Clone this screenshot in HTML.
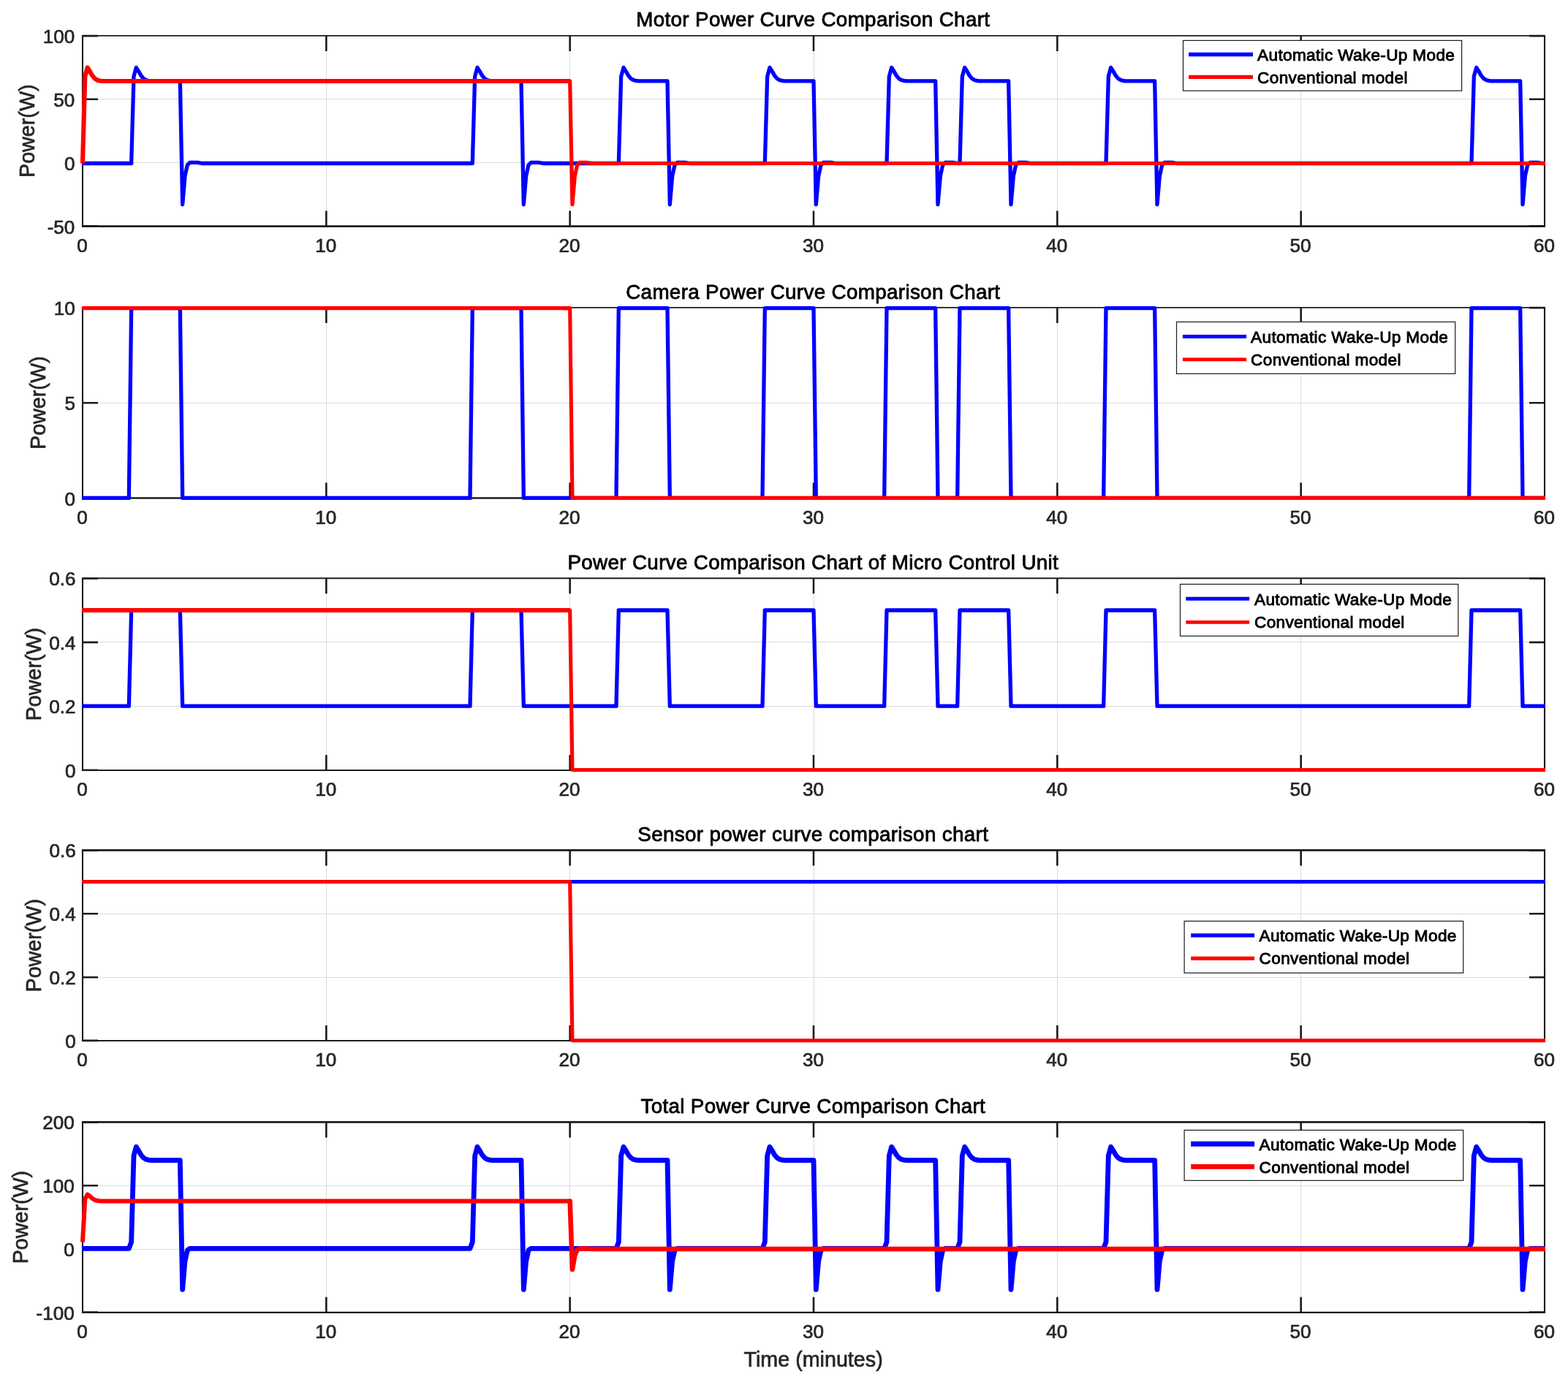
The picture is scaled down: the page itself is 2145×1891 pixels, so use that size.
<!DOCTYPE html>
<html lang="en"><head><meta charset="utf-8"><title>Power Curve Comparison Charts</title>
<style>
html,body{margin:0;padding:0;background:#fff}
body{width:2145px;height:1891px;overflow:hidden}
svg{display:block;font-family:"Liberation Sans",sans-serif}
.g{stroke:#dcdcdc;stroke-width:1;fill:none}
.a{stroke:#1c1c1c;fill:none}
.k{stroke:#1c1c1c;stroke-width:2.6;fill:none}
.b{stroke:#0000ff;fill:none;stroke-linejoin:round}
.r{stroke:#ff0000;fill:none;stroke-linejoin:round}
.t{fill:#262626;font-size:26.1px;stroke:#262626;stroke-width:0.7}
.l{fill:#262626;font-size:28.7px;stroke:#262626;stroke-width:0.7}
.h{fill:#000;font-size:27.8px;letter-spacing:0.335px;text-anchor:middle;stroke:#000;stroke-width:0.8}
.e{fill:#000;font-size:22.6px;letter-spacing:0.33px;stroke:#000;stroke-width:0.9}
.lb{fill:#fff;stroke:#1c1c1c;stroke-width:1.2}
</style></head><body>
<svg width="2145" height="1891" viewBox="0 0 2145 1891" role="img" aria-label="Power curve comparison charts">
<rect width="2145" height="1891" fill="#fff"/>
<g id="chart1">
<path class="g" d="M446.5 48.9V309.55M779.5 48.9V309.55M1113.5 48.9V309.55M1446.5 48.9V309.55M1779.5 48.9V309.55M113 222.5H2113M113 135.5H2113"/>
<path class="a" stroke-width="1.9" d="M111.95 48.9H2114.05"/>
<path class="a" stroke-width="2.7" d="M111.95 309.55H2114.05"/>
<path class="a" stroke-width="2.1" d="M113 48.9V309.55M2113 48.9V309.55"/>
<path class="k" d="M446.33 309.55v-21M446.33 48.9v21M779.67 309.55v-21M779.67 48.9v21M1113 309.55v-21M1113 48.9v21M1446.33 309.55v-21M1446.33 48.9v21M1779.67 309.55v-21M1779.67 48.9v21M113 309.35h21M2113 309.35h-21M113 222.67h21M2113 222.67h-21M113 135.78h21M2113 135.78h-21M113 49.1h21M2113 49.1h-21"/>
<path class="b" stroke-width="5.3" d="M112 223.5L179.67 223.5L183 104.66L186.33 92.42L189.67 97.67L193 103.61L196.33 107.45L199.67 109.55L203 110.43L206.33 110.95L246.33 110.95L249.67 279.77L253 240.98L256.33 225.77L259.67 222.45L269.67 222.45L273 222.98L276.33 223.5L646.33 223.5L649.67 104.66L653 92.42L656.33 97.67L659.67 103.61L663 107.45L666.33 109.55L669.67 110.43L673 110.95L713 110.95L716.33 279.77L719.67 240.98L723 225.77L726.33 222.45L736.33 222.45L739.67 222.98L743 223.5L846.33 223.5L849.67 104.66L853 92.42L856.33 97.67L859.67 103.61L863 107.45L866.33 109.55L869.67 110.43L873 110.95L913 110.95L916.33 279.77L919.67 240.98L923 225.77L926.33 222.45L936.33 222.45L939.67 222.98L943 223.5L1046.33 223.5L1049.67 104.66L1053 92.42L1056.33 97.67L1059.67 103.61L1063 107.45L1066.33 109.55L1069.67 110.43L1073 110.95L1113 110.95L1116.33 279.77L1119.67 240.98L1123 225.77L1126.33 222.45L1136.33 222.45L1139.67 222.98L1143 223.5L1213 223.5L1216.33 104.66L1219.67 92.42L1223 97.67L1226.33 103.61L1229.67 107.45L1233 109.55L1236.33 110.43L1239.67 110.95L1279.67 110.95L1283 279.77L1286.33 240.98L1289.67 225.77L1293 222.45L1303 222.45L1306.33 222.98L1309.67 223.5L1313 223.5L1316.33 104.66L1319.67 92.42L1323 97.67L1326.33 103.61L1329.67 107.45L1333 109.55L1336.33 110.43L1339.67 110.95L1379.67 110.95L1383 279.77L1386.33 240.98L1389.67 225.77L1393 222.45L1403 222.45L1406.33 222.98L1409.67 223.5L1513 223.5L1516.33 104.66L1519.67 92.42L1523 97.67L1526.33 103.61L1529.67 107.45L1533 109.55L1536.33 110.43L1539.67 110.95L1579.67 110.95L1583 279.77L1586.33 240.98L1589.67 225.77L1593 222.45L1603 222.45L1606.33 222.98L1609.67 223.5L2013 223.5L2016.33 104.66L2019.67 92.42L2023 97.67L2026.33 103.61L2029.67 107.45L2033 109.55L2036.33 110.43L2039.67 110.95L2079.67 110.95L2083 279.77L2086.33 240.98L2089.67 225.77L2093 222.45L2103 222.45L2106.33 222.98L2109.67 223.5L2114 223.5"/>
<path class="r" stroke-width="5.2" d="M769.67 110.95L779.67 110.95L783 279.77L786.33 240.98L789.67 225.77L793 222.45L803 222.45L806.33 222.98L809.67 223.5L2114 223.5"/>
<path class="r" stroke-width="6.1" d="M113 223.5L116.33 104.66L119.67 92.42L123 97.67L126.33 103.61L129.67 107.45L133 109.55L136.33 110.43L139.67 110.95L779.67 110.95"/>
<text class="t" text-anchor="middle" x="112.4" y="344.95">0</text>
<text class="t" text-anchor="middle" x="445.73" y="344.95">10</text>
<text class="t" text-anchor="middle" x="779.07" y="344.95">20</text>
<text class="t" text-anchor="middle" x="1112.4" y="344.95">30</text>
<text class="t" text-anchor="middle" x="1445.73" y="344.95">40</text>
<text class="t" text-anchor="middle" x="1779.07" y="344.95">50</text>
<text class="t" text-anchor="middle" x="2112.4" y="344.95">60</text>
<text class="t" text-anchor="end" x="102.4" y="319.55">-50</text>
<text class="t" text-anchor="end" x="102.4" y="232.67">0</text>
<text class="t" text-anchor="end" x="102.4" y="145.78">50</text>
<text class="t" text-anchor="end" x="102.4" y="58.9">100</text>
<text class="h" x="1112.3" y="36.3">Motor Power Curve Comparison Chart</text>
<text class="l" text-anchor="middle" transform="translate(47.1 179.22) rotate(-90)">Power(W)</text>
<rect class="lb" x="1618.5" y="55.4" width="381.1" height="68.8"/>
<path stroke="#0000ff" stroke-width="5.3" d="M1626.1 74.5H1714"/>
<path stroke="#ff0000" stroke-width="5.3" d="M1626.1 105.3H1714"/>
<text class="e" x="1720.1" y="83.1">Automatic Wake-Up Mode</text>
<text class="e" x="1720.1" y="114">Conventional model</text>
</g>
<g id="chart2">
<path class="g" d="M446.5 420.9V681.55M779.5 420.9V681.55M1113.5 420.9V681.55M1446.5 420.9V681.55M1779.5 420.9V681.55M113 551.5H2113"/>
<path class="a" stroke-width="1.9" d="M111.95 420.9H2114.05"/>
<path class="a" stroke-width="2.5" d="M111.95 681.55H2114.05"/>
<path class="a" stroke-width="2.1" d="M113 420.9V681.55M2113 420.9V681.55"/>
<path class="k" d="M446.33 681.55v-21M446.33 420.9v21M779.67 681.55v-21M779.67 420.9v21M1113 681.55v-21M1113 420.9v21M1446.33 681.55v-21M1446.33 420.9v21M1779.67 681.55v-21M1779.67 420.9v21M113 681.35h21M2113 681.35h-21M113 551.22h21M2113 551.22h-21M113 421.1h21M2113 421.1h-21"/>
<path class="b" stroke-width="5.3" d="M112 681.4L176.33 681.4L179.67 421.65L246.33 421.65L249.67 681.4L643 681.4L646.33 421.65L713 421.65L716.33 681.4L843 681.4L846.33 421.65L913 421.65L916.33 681.4L1043 681.4L1046.33 421.65L1113 421.65L1116.33 681.4L1209.67 681.4L1213 421.65L1279.67 421.65L1283 681.4L1309.67 681.4L1313 421.65L1379.67 421.65L1383 681.4L1509.67 681.4L1513 421.65L1579.67 421.65L1583 681.4L2009.67 681.4L2013 421.65L2079.67 421.65L2083 681.4L2114 681.4"/>
<path class="r" stroke-width="5.1" d="M769.67 421.65L779.67 421.65L783 681.4L2114 681.4"/>
<path class="r" stroke-width="5.4" d="M112 421.65L779.67 421.65"/>
<text class="t" text-anchor="middle" x="112.4" y="716.95">0</text>
<text class="t" text-anchor="middle" x="445.73" y="716.95">10</text>
<text class="t" text-anchor="middle" x="779.07" y="716.95">20</text>
<text class="t" text-anchor="middle" x="1112.4" y="716.95">30</text>
<text class="t" text-anchor="middle" x="1445.73" y="716.95">40</text>
<text class="t" text-anchor="middle" x="1779.07" y="716.95">50</text>
<text class="t" text-anchor="middle" x="2112.4" y="716.95">60</text>
<text class="t" text-anchor="end" x="102.9" y="691.55">0</text>
<text class="t" text-anchor="end" x="102.9" y="561.22">5</text>
<text class="t" text-anchor="end" x="102.9" y="430.9">10</text>
<text class="h" x="1112.3" y="408.9">Camera Power Curve Comparison Chart</text>
<text class="l" text-anchor="middle" transform="translate(61.9 551.22) rotate(-90)">Power(W)</text>
<rect class="lb" x="1609.5" y="440.5" width="381.2" height="70.9"/>
<path stroke="#0000ff" stroke-width="4.9" d="M1617.9 460.5H1705.1"/>
<path stroke="#ff0000" stroke-width="4.9" d="M1617.9 491.9H1705.1"/>
<text class="e" x="1711.1" y="469.3">Automatic Wake-Up Mode</text>
<text class="e" x="1711.1" y="500.1">Conventional model</text>
</g>
<g id="chart3">
<path class="g" d="M446.5 791.3V1053.9M779.5 791.3V1053.9M1113.5 791.3V1053.9M1446.5 791.3V1053.9M1779.5 791.3V1053.9M113 966.5H2113M113 878.5H2113"/>
<path class="a" stroke-width="2" d="M111.95 791.3H2114.05"/>
<path class="a" stroke-width="2" d="M111.95 1053.9H2114.05"/>
<path class="a" stroke-width="2.1" d="M113 791.3V1053.9M2113 791.3V1053.9"/>
<path class="k" d="M446.33 1053.9v-21M446.33 791.3v21M779.67 1053.9v-21M779.67 791.3v21M1113 1053.9v-21M1113 791.3v21M1446.33 1053.9v-21M1446.33 791.3v21M1779.67 1053.9v-21M1779.67 791.3v21M113 1053.7h21M2113 1053.7h-21M113 966.37h21M2113 966.37h-21M113 878.83h21M2113 878.83h-21M113 791.5h21M2113 791.5h-21"/>
<path class="b" stroke-width="5.3" d="M112 966.1L176.33 966.1L179.67 835L246.33 835L249.67 966.1L643 966.1L646.33 835L713 835L716.33 966.1L843 966.1L846.33 835L913 835L916.33 966.1L1043 966.1L1046.33 835L1113 835L1116.33 966.1L1209.67 966.1L1213 835L1279.67 835L1283 966.1L1309.67 966.1L1313 835L1379.67 835L1383 966.1L1509.67 966.1L1513 835L1579.67 835L1583 966.1L2009.67 966.1L2013 835L2079.67 835L2083 966.1L2114 966.1"/>
<path class="r" stroke-width="5.1" d="M769.67 835L779.67 835L783 1053.5L2114 1053.5"/>
<path class="r" stroke-width="6" d="M112 835L779.67 835"/>
<text class="t" text-anchor="middle" x="112.4" y="1089.3">0</text>
<text class="t" text-anchor="middle" x="445.73" y="1089.3">10</text>
<text class="t" text-anchor="middle" x="779.07" y="1089.3">20</text>
<text class="t" text-anchor="middle" x="1112.4" y="1089.3">30</text>
<text class="t" text-anchor="middle" x="1445.73" y="1089.3">40</text>
<text class="t" text-anchor="middle" x="1779.07" y="1089.3">50</text>
<text class="t" text-anchor="middle" x="2112.4" y="1089.3">60</text>
<text class="t" text-anchor="end" x="103.6" y="1063.9">0</text>
<text class="t" text-anchor="end" x="103.6" y="976.37">0.2</text>
<text class="t" text-anchor="end" x="103.6" y="888.83">0.4</text>
<text class="t" text-anchor="end" x="103.6" y="801.3">0.6</text>
<text class="h" x="1112.3" y="778.9">Power Curve Comparison Chart of Micro Control Unit</text>
<text class="l" text-anchor="middle" transform="translate(55.9 922.6) rotate(-90)">Power(W)</text>
<rect class="lb" x="1614.5" y="799.4" width="380.3" height="70.9"/>
<path stroke="#0000ff" stroke-width="4.9" d="M1622.3 819.3H1709.2"/>
<path stroke="#ff0000" stroke-width="4.9" d="M1622.3 851.4H1709.2"/>
<text class="e" x="1716" y="828.1">Automatic Wake-Up Mode</text>
<text class="e" x="1716" y="859.4">Conventional model</text>
</g>
<g id="chart4">
<path class="g" d="M446.5 1163.45V1424.05M779.5 1163.45V1424.05M1113.5 1163.45V1424.05M1446.5 1163.45V1424.05M1779.5 1163.45V1424.05M113 1337.5H2113M113 1250.5H2113"/>
<path class="a" stroke-width="2.7" d="M111.95 1163.45H2114.05"/>
<path class="a" stroke-width="1.9" d="M111.95 1424.05H2114.05"/>
<path class="a" stroke-width="2.1" d="M113 1163.45V1424.05M2113 1163.45V1424.05"/>
<path class="k" d="M446.33 1424.05v-21M446.33 1163.45v21M779.67 1424.05v-21M779.67 1163.45v21M1113 1424.05v-21M1113 1163.45v21M1446.33 1424.05v-21M1446.33 1163.45v21M1779.67 1424.05v-21M1779.67 1163.45v21M113 1423.85h21M2113 1423.85h-21M113 1337.18h21M2113 1337.18h-21M113 1250.32h21M2113 1250.32h-21M113 1163.65h21M2113 1163.65h-21"/>
<path class="b" stroke-width="5.1" d="M112 1206.5L2114 1206.5"/>
<path class="r" stroke-width="5.1" d="M769.67 1206.5L779.67 1206.5L783 1423.7L2114 1423.7"/>
<path class="r" stroke-width="5.1" d="M112 1206.5L779.67 1206.5"/>
<text class="t" text-anchor="middle" x="112.4" y="1459.45">0</text>
<text class="t" text-anchor="middle" x="445.73" y="1459.45">10</text>
<text class="t" text-anchor="middle" x="779.07" y="1459.45">20</text>
<text class="t" text-anchor="middle" x="1112.4" y="1459.45">30</text>
<text class="t" text-anchor="middle" x="1445.73" y="1459.45">40</text>
<text class="t" text-anchor="middle" x="1779.07" y="1459.45">50</text>
<text class="t" text-anchor="middle" x="2112.4" y="1459.45">60</text>
<text class="t" text-anchor="end" x="103.7" y="1434.05">0</text>
<text class="t" text-anchor="end" x="103.7" y="1347.18">0.2</text>
<text class="t" text-anchor="end" x="103.7" y="1260.32">0.4</text>
<text class="t" text-anchor="end" x="103.7" y="1173.45">0.6</text>
<text class="h" x="1112.3" y="1151.2">Sensor power curve comparison chart</text>
<text class="l" text-anchor="middle" transform="translate(55.9 1293.75) rotate(-90)">Power(W)</text>
<rect class="lb" x="1620.1" y="1260.4" width="381.6" height="70.9"/>
<path stroke="#0000ff" stroke-width="5.4" d="M1629.2 1279.9H1716.1"/>
<path stroke="#ff0000" stroke-width="5.4" d="M1629.2 1311.4H1716.1"/>
<text class="e" x="1722.6" y="1288.1">Automatic Wake-Up Mode</text>
<text class="e" x="1722.6" y="1319.4">Conventional model</text>
</g>
<g id="chart5">
<path class="g" d="M446.5 1535.4V1795.85M779.5 1535.4V1795.85M1113.5 1535.4V1795.85M1446.5 1535.4V1795.85M1779.5 1535.4V1795.85M113 1709.5H2113M113 1622.5H2113"/>
<path class="a" stroke-width="2.8" d="M111.95 1535.4H2114.05"/>
<path class="a" stroke-width="2.3" d="M111.95 1795.85H2114.05"/>
<path class="a" stroke-width="2.1" d="M113 1535.4V1795.85M2113 1535.4V1795.85"/>
<path class="k" d="M446.33 1795.85v-21M446.33 1535.4v21M779.67 1795.85v-21M779.67 1535.4v21M1113 1795.85v-21M1113 1535.4v21M1446.33 1795.85v-21M1446.33 1535.4v21M1779.67 1795.85v-21M1779.67 1535.4v21M113 1795.65h21M2113 1795.65h-21M113 1709.03h21M2113 1709.03h-21M113 1622.22h21M2113 1622.22h-21M113 1535.6h21M2113 1535.6h-21"/>
<path class="b" stroke-width="6.8" d="M112 1708.43L176.33 1708.43L179.67 1699.48L183 1581.41L186.33 1569.26L189.67 1574.47L193 1580.37L196.33 1584.19L199.67 1586.27L203 1587.14L206.33 1587.66L246.33 1587.66L249.67 1764.34L253 1725.79L256.33 1710.68L259.67 1708.43L643 1708.43L646.33 1699.48L649.67 1581.41L653 1569.26L656.33 1574.47L659.67 1580.37L663 1584.19L666.33 1586.27L669.67 1587.14L673 1587.66L713 1587.66L716.33 1764.34L719.67 1725.79L723 1710.68L726.33 1708.43L843 1708.43L846.33 1699.48L849.67 1581.41L853 1569.26L856.33 1574.47L859.67 1580.37L863 1584.19L866.33 1586.27L869.67 1587.14L873 1587.66L913 1587.66L916.33 1764.34L919.67 1725.79L923 1710.68L926.33 1708.43L1043 1708.43L1046.33 1699.48L1049.67 1581.41L1053 1569.26L1056.33 1574.47L1059.67 1580.37L1063 1584.19L1066.33 1586.27L1069.67 1587.14L1073 1587.66L1113 1587.66L1116.33 1764.34L1119.67 1725.79L1123 1710.68L1126.33 1708.43L1209.67 1708.43L1213 1699.48L1216.33 1581.41L1219.67 1569.26L1223 1574.47L1226.33 1580.37L1229.67 1584.19L1233 1586.27L1236.33 1587.14L1239.67 1587.66L1279.67 1587.66L1283 1764.34L1286.33 1725.79L1289.67 1710.68L1293 1708.43L1309.67 1708.43L1313 1699.48L1316.33 1581.41L1319.67 1569.26L1323 1574.47L1326.33 1580.37L1329.67 1584.19L1333 1586.27L1336.33 1587.14L1339.67 1587.66L1379.67 1587.66L1383 1764.34L1386.33 1725.79L1389.67 1710.68L1393 1708.43L1509.67 1708.43L1513 1699.48L1516.33 1581.41L1519.67 1569.26L1523 1574.47L1526.33 1580.37L1529.67 1584.19L1533 1586.27L1536.33 1587.14L1539.67 1587.66L1579.67 1587.66L1583 1764.34L1586.33 1725.79L1589.67 1710.68L1593 1708.43L2009.67 1708.43L2013 1699.48L2016.33 1581.41L2019.67 1569.26L2023 1574.47L2026.33 1580.37L2029.67 1584.19L2033 1586.27L2036.33 1587.14L2039.67 1587.66L2079.67 1587.66L2083 1764.34L2086.33 1725.79L2089.67 1710.68L2093 1708.43L2114 1708.43"/>
<path class="r" stroke-width="6" d="M113 1699.48L116.33 1640.45L119.67 1634.37L123 1636.98L126.33 1639.93L129.67 1641.84L133 1642.88L136.33 1643.31L139.67 1643.57L779.67 1643.57"/>
<path class="r" stroke-width="6.6" d="M779.67 1643.57L783 1736.99L786.33 1717.71L789.67 1710.16L793 1708.51L803 1708.51L806.33 1708.77L809.67 1709.03L2114 1709.03"/>
<circle cx="779.67" cy="1643.57" r="3.3" fill="#ff0000"/>
<text class="t" text-anchor="middle" x="112.4" y="1831.25">0</text>
<text class="t" text-anchor="middle" x="445.73" y="1831.25">10</text>
<text class="t" text-anchor="middle" x="779.07" y="1831.25">20</text>
<text class="t" text-anchor="middle" x="1112.4" y="1831.25">30</text>
<text class="t" text-anchor="middle" x="1445.73" y="1831.25">40</text>
<text class="t" text-anchor="middle" x="1779.07" y="1831.25">50</text>
<text class="t" text-anchor="middle" x="2112.4" y="1831.25">60</text>
<text class="t" text-anchor="end" x="101.8" y="1805.85">-100</text>
<text class="t" text-anchor="end" x="101.8" y="1719.03">0</text>
<text class="t" text-anchor="end" x="101.8" y="1632.22">100</text>
<text class="t" text-anchor="end" x="101.8" y="1545.4">200</text>
<text class="h" x="1112.3" y="1523.2">Total Power Curve Comparison Chart</text>
<text class="l" text-anchor="middle" transform="translate(38.3 1665.62) rotate(-90)">Power(W)</text>
<rect class="lb" x="1620.1" y="1546.4" width="381.6" height="68.9"/>
<path stroke="#0000ff" stroke-width="6.9" d="M1629.2 1565.3H1716.1"/>
<path stroke="#ff0000" stroke-width="6.9" d="M1629.2 1596.4H1716.1"/>
<text class="e" x="1722.6" y="1573.5">Automatic Wake-Up Mode</text>
<text class="e" x="1722.6" y="1604.8">Conventional model</text>
</g>
<text class="l" text-anchor="middle" x="1112.6" y="1869.9">Time (minutes)</text>
</svg></body></html>
